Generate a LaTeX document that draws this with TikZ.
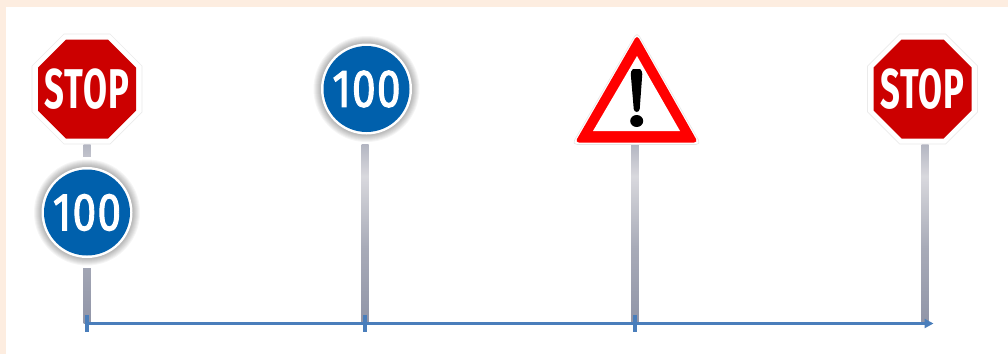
\documentclass[tikz,border=0pt]{standalone}
\usepackage{fontspec}
\setmainfont{Fira Sans}
\usetikzlibrary{calc,arrows.meta}
\definecolor{peach}{HTML}{FDEDE0}
\definecolor{stopred}{HTML}{CC0000}
\definecolor{signblue}{HTML}{0060AC}
\definecolor{warnred}{HTML}{FF0000}
\definecolor{axisblue}{HTML}{4A7EBB}
\definecolor{poledark}{HTML}{868BA0}
\definecolor{polemid}{HTML}{A8ABB8}
\definecolor{polelight}{HTML}{D8D8DD}
\pgfdeclareverticalshading{poleshade}{100bp}{
  color(0bp)=(polelight);
  color(3bp)=(polelight);
  color(16bp)=(poledark);
  color(46bp)=(polemid);
  color(66bp)=(polelight);
  color(86bp)=(poledark);
  color(100bp)=(polemid)}
\tikzset{
  polebar/.style={shading=poleshade},
  stoptext/.style={text=white,font=\fontsize{56}{56}\selectfont\bfseries\addfontfeature{LetterSpace=3},inner sep=0pt,xscale=.62},
  speedtext/.style={text=white,font=\fontsize{53}{53}\selectfont\addfontfeature{FakeBold=2.2,LetterSpace=3},inner sep=0pt,xscale=.8},
  axisline/.style={draw=axisblue,line width=3.4pt},
  axistick/.style={draw=axisblue,line width=3.2pt},
}
\newcommand{\polefrom}[2]{\path[polebar] ($(#1)+(-3.5,0)$) rectangle ($(#2)+(3.5,0)$);}
\newcommand{\stopsign}[2]{%
  \begin{scope}[shift={(#1)}]
    \fill[white] (-23,-55) -- (23,-55) -- (55,-23) -- (55,23) -- (23,55) -- (-23,55) -- (-55,23) -- (-55,-23) -- cycle;
    \draw[black!8,line width=.7pt] (-23,-55) -- (23,-55) -- (55,-23) -- (55,23) -- (23,55) -- (-23,55) -- (-55,23) -- (-55,-23) -- cycle;
    \fill[stopred] (-21,-49.5) -- (21,-49.5) -- (49,-21.5) -- (49,21.5) -- (21,49.5) -- (-21,49.5) -- (-49,21.5) -- (-49,-21.5) -- cycle;
    \node[stoptext] (#2) at (0,0) {STOP};
  \end{scope}}
\newcommand{\speedsign}[2]{%
  \begin{scope}[shift={(#1)}]
    \foreach \r in {53,52,51,50,49,48,47,46}{\fill[black,opacity=.04] (0,0) circle (\r);}
    \fill[white] (0,0) circle (45.5);
    \fill[signblue] (0,0) circle (43);
    \node[speedtext] (#2) at (0,0) {100};
  \end{scope}}
\begin{document}
\begin{tikzpicture}[x=1pt,y=-1pt]
\useasboundingbox (0,0) rectangle (1008,354);
\fill[peach] (0,0) rectangle (1008,354);
\fill[white] (6,7) rectangle (1008,354);
% anchors
\coordinate (t1) at (87,144); \coordinate (b1) at (87,323.5);
\coordinate (t2) at (365,144); \coordinate (b2) at (365,323.5);
\coordinate (t3) at (635,144); \coordinate (b3) at (635,323.5);
\coordinate (t4) at (925,144); \coordinate (b4) at (925,323.5);
\coordinate (end) at (933.5,323.5);
% poles
\polefrom{t1}{b1}
\polefrom{t2}{b2}
\polefrom{t3}{b3}
\polefrom{t4}{b4}
% white gap round lower sign
\fill[white] (87,212.5) circle (55.5);
% axis
\draw[axisline,-{Triangle[length=9pt,width=9pt]}] (b1) -- (end);
\draw[axistick] ($(b1)+(0,-8.5)$) -- ($(b1)+(0,8.5)$);
\draw[axistick] ($(b2)+(0,-8.5)$) -- ($(b2)+(0,8.5)$);
\draw[axistick] ($(b3)+(0,-8.5)$) -- ($(b3)+(0,8.5)$);
% signs
\stopsign{87,89}{stopA}
\speedsign{87,212.5}{speedA}
\speedsign{366.5,89}{speedB}
\stopsign{922.5,89}{stopB}
% warning triangle
\fill[white,draw=black!10,line width=.6pt,rounded corners=5pt] (637,32) -- (701,144.5) -- (572,144.5) -- cycle;
\fill[warnred,rounded corners=4pt] (637,35) -- (698,142.5) -- (575,142.5) -- cycle;
\fill[white] (637,56) -- (680,131) -- (593,131) -- cycle;
\fill[black,rounded corners=3pt] (630.5,71) .. controls (633,69) and (640,69) .. (642.5,71) -- (639.5,112) -- (634,112) -- cycle;
\fill[black] (636.7,121) ellipse (6.5 and 6);
\end{tikzpicture}
\end{document}
